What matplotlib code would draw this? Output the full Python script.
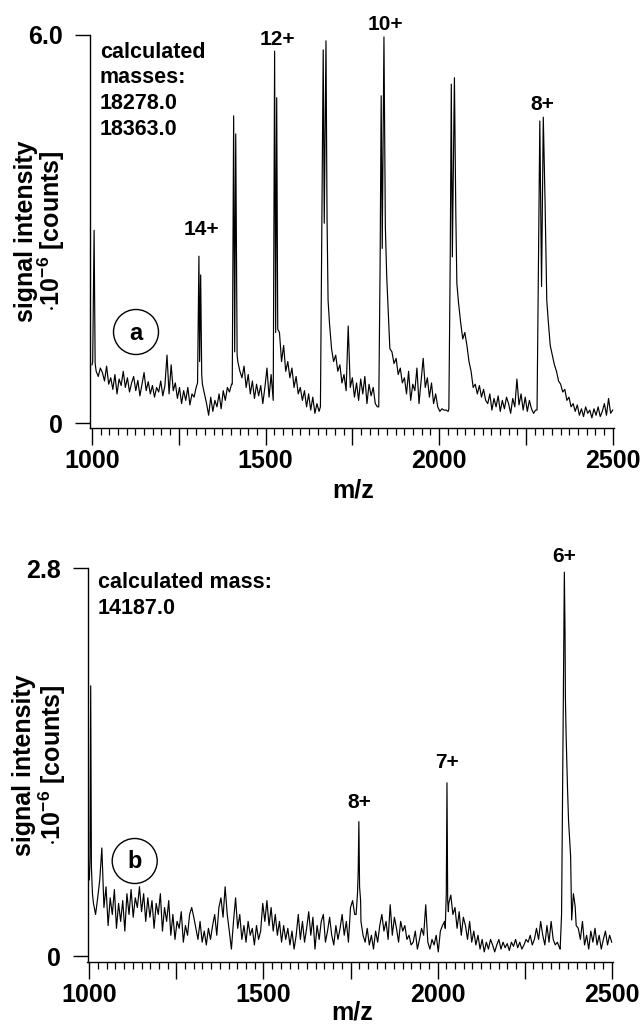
import numpy as np
import matplotlib
matplotlib.use("Agg")
import matplotlib.pyplot as plt
from matplotlib.patches import Ellipse
from matplotlib.ticker import MultipleLocator

plt.rcParams["font.family"] = ["Liberation Sans", "DejaVu Sans"]
plt.rcParams["font.weight"] = "bold"
plt.rcParams["mathtext.fontset"] = "custom"
plt.rcParams["mathtext.rm"] = "Liberation Sans:bold"
plt.rcParams["mathtext.it"] = "Liberation Sans:bold"
plt.rcParams["mathtext.bf"] = "Liberation Sans:bold"
plt.rcParams["mathtext.default"] = "rm"

nan = float("nan")

# ---------------- data: panel a ----------------
mz_grid = np.arange(1000, 2501, 6)   # sampling grid of the baseline (m/z)

base_a = [
    0.90, 0.95, 0.80, 0.72, 0.85,  0.78, 0.65, 0.88, 0.60, 0.70,
    0.52, 0.75, 0.45, 0.68, 0.58,  0.80, 0.55, 0.70, 0.48, 0.62,
    0.72, 0.50, 0.66, 0.42, 0.60,  0.78, 0.50, 0.64, 0.45, 0.58,
    0.40, 0.55, 0.48, 0.65, 0.42,  0.58, 1.05, 0.45, 0.90, 0.50,
    0.62, 0.38, 0.55, 0.30, 0.50,  0.35, 0.55, 0.28, 0.45, 0.40,
    0.55, nan, nan, 0.60, 0.45,    0.30, 0.12, 0.40, 0.18, 0.35,
    0.25, 0.45, 0.22, 0.50, 0.35,  0.55, 0.48, 0.60, nan, nan,
    0.95, 0.80, 0.70, 0.88, 0.55,  0.75, 0.45, 0.65, 0.38, 0.60,
    0.42, 0.58, 0.30, 0.55, 0.85,  0.40, 0.75, nan, nan, nan,
    1.40, 0.95, 1.20, 0.80, 0.95,  0.70, 0.85, 0.55, 0.72, 0.45,
    0.55, 0.35, 0.50, 0.25, 0.45,  0.20, 0.40, 0.15, 0.30, 0.18,
    nan, nan, nan, nan, 1.55,      1.15, 0.95, 1.05, 0.80, 0.90,
    0.62, 0.75, 0.50, 1.50, 0.55,  0.70, 0.40, 0.62, 0.35, 0.68,
    0.45, 0.72, 0.30, 0.60, 0.42,  0.55, 0.30, 0.25, nan, nan,
    nan, nan, nan, 1.15, 1.10,     0.92, 1.00, 0.75, 0.85, 0.62,
    0.70, 0.45, 0.80, 0.35, 0.60,  0.50, 0.85, 0.30, 0.65, 1.00,
    0.55, 0.70, 0.40, 0.62, 0.30,  0.45, 0.25, 0.18, 0.22, 0.20,
    0.20, 0.18, nan, nan, nan,     nan, nan, 1.55, 1.30, 1.40,
    1.20, 0.95, 0.80, 0.55, 0.60,  0.45, 0.58, 0.40, 0.52, 0.35,
    0.30, 0.45, 0.20, 0.38, 0.25,  0.42, 0.18, 0.35, 0.22, 0.40,
    0.30, 0.15, 0.38, 0.25, 0.68,  0.28, 0.45, 0.20, 0.40, 0.18,
    0.35, 0.22, 0.15, 0.20, nan,   nan, nan, nan, nan, nan,
    1.20, 1.05, 0.90, 0.80, 0.65,  0.60, 0.48, 0.52, 0.35, 0.40,
    0.25, 0.30, 0.18, 0.28, 0.12,  0.22, 0.10, 0.25, 0.15, 0.20,
    0.08, 0.22, 0.12, 0.25, 0.10,  0.18, 0.30, 0.12, 0.38, 0.15,
    0.20,
]

peaks_a_mz = [
    [1002, 1006, 1009],
    [1304, 1308, 1310, 1313, 1316],
    [1404, 1408, 1411, 1414, 1418],
    [1522, 1526, 1529, 1532, 1535],
    [1658, 1662, 1666, 1669, 1674, 1677, 1680],
    [1826, 1830, 1833, 1836, 1841, 1845, 1849, 1852],
    [2028, 2032, 2035, 2038, 2044, 2048, 2051, 2056],
    [2282, 2286, 2290, 2295, 2300, 2305, 2310, 2314],
]
peaks_a_int = [
    [0.95, 2.98, 0.92],
    [0.62, 2.58, 0.95, 2.29, 0.75],
    [0.60, 4.75, 1.10, 4.47, 1.05],
    [0.35, 5.75, 1.40, 5.03, 1.45],
    [0.25, 3.00, 5.77, 3.09, 5.91, 3.20, 1.90],
    [0.25, 2.50, 5.06, 2.70, 5.97, 3.04, 2.26, 1.90],
    [0.22, 2.60, 5.24, 2.57, 5.34, 3.24, 2.16, 1.85],
    [0.20, 2.50, 4.67, 2.11, 4.73, 3.45, 1.90, 1.60],
]

# ---------------- data: panel b ----------------
base_b = [
    nan, nan, 0.38, 0.30, 0.42,    0.55, 0.78, 0.35, 0.50, 0.22,
    0.42, 0.30, 0.48, 0.20, 0.38,  0.25, 0.40, 0.18, 0.45, 0.30,
    0.48, 0.28, 0.42, 0.35, 0.50,  0.32, 0.45, 0.25, 0.42, 0.28,
    0.40, 0.20, 0.38, 0.30, 0.45,  0.18, 0.35, 0.25, 0.40, 0.15,
    0.30, 0.12, 0.25, 0.20, 0.32,  0.10, 0.22, 0.15, 0.30, 0.35,
    0.28, 0.20, 0.12, 0.25, 0.10,  0.18, 0.08, 0.20, 0.12, 0.22,
    0.30, 0.15, 0.35, 0.42, 0.28,  0.50, 0.30, 0.18, 0.05, 0.25,
    0.42, 0.20, 0.30, 0.12, 0.22,  0.10, 0.25, 0.15, 0.20, 0.08,
    0.22, 0.12, 0.18, 0.38, 0.25,  0.40, 0.22, 0.35, 0.18, 0.30,
    0.15, 0.25, 0.10, 0.22, 0.12,  0.20, 0.08, 0.18, 0.05, 0.15,
    0.30, 0.12, 0.25, 0.10, 0.20,  0.32, 0.15, 0.28, 0.05, 0.22,
    0.12, 0.25, 0.30, 0.10, 0.18,  0.28, 0.15, 0.08, 0.22, 0.12,
    0.20, 0.30, 0.15, 0.25, 0.10,  0.35, 0.40, 0.30, nan, nan,
    0.25, 0.15, 0.10, 0.20, 0.08,  0.15, 0.05, 0.18, 0.10, 0.22,
    0.30, 0.18, 0.25, 0.12, 0.37,  0.15, 0.28, 0.20, 0.10, 0.25,
    0.18, 0.22, 0.12, 0.15, 0.08,  0.10, 0.18, 0.05, 0.12, 0.20,
    0.15, 0.37, 0.10, 0.05, 0.12,  0.08, 0.15, 0.03, 0.18, 0.22,
    0.25, nan, 0.38, 0.44, 0.30,   0.35, 0.20, 0.32, 0.15, 0.28,
    0.22, 0.12, 0.25, 0.10, 0.18,  0.08, 0.15, 0.05, 0.12, 0.03,
    0.10, 0.05, 0.12, 0.08, 0.03,  0.08, 0.12, 0.05, 0.10, 0.06,
    0.09, 0.04, 0.10, 0.07, 0.12,  0.06, 0.10, 0.05, 0.08, 0.12,
    0.10, 0.15, 0.08, 0.12, 0.20,  0.12, 0.25, 0.15, 0.08, 0.22,
    0.10, 0.25, 0.12, 0.08, 0.10,  0.06, nan, nan, nan, nan,
    nan, nan, nan, 0.22, 0.20,     0.12, 0.25, 0.08, 0.15, 0.05,
    0.18, 0.10, 0.20, 0.08, 0.15,  0.05, 0.12, 0.18, 0.08, 0.15,
    0.10,
]

peaks_b_mz = [
    [1000, 1002, 1004, 1006, 1009],
    [1766, 1770, 1772, 1774, 1776, 1779],
    [2022, 2025, 2027, 2029, 2031],
    [2352, 2356, 2359, 2362, 2364, 2366, 2367, 2369, 2373, 2376, 2382, 2385,
     2390, 2395],
]
peaks_b_int = [
    [0.55, 0.70, 1.95, 0.64, 0.45],
    [0.30, 0.45, 0.60, 0.97, 0.50, 0.40],
    [0.20, 0.45, 1.25, 0.40, 0.32],
    [0.05, 0.30, 1.20, 2.20, 2.77, 2.33, 1.87, 1.60, 1.22, 0.98, 0.72, 0.26,
     0.45, 0.36],
]

charges_a = ["14+", "12+", "10+", "8+"]
charges_b = ["8+", "7+", "6+"]
xtick_vals = [1000, 1250, 1500, 1750, 2000, 2250, 2500]
xtick_text = ["1000", "", "1500", "", "2000", "", "2500"]


def build(grid, base, pmz, pint):
    x = np.asarray(grid, float)
    y = np.asarray(base, float)
    keep = np.isfinite(y)
    for m in pmz:
        keep &= ~((x >= min(m)) & (x <= max(m)))
    xs = np.concatenate([x[keep]] + [np.asarray(m, float) for m in pmz])
    ys = np.concatenate([y[keep]] + [np.asarray(v, float) for v in pint])
    o = np.argsort(xs, kind="stable")
    return xs[o], ys[o]


W, H = 644, 1025
fig = plt.figure(figsize=(W / 100, H / 100), dpi=100)


def px(x, y):
    return x / W, 1 - y / H


def make_axes(left, right, top, bottom, ymax, ymin, xmin, xmax):
    ax = fig.add_axes([left / W, 1 - bottom / H, (right - left) / W, (bottom - top) / H])
    ax.set_xlim(xmin, xmax)
    ax.set_ylim(ymin, ymax)
    for s in ("top", "right"):
        ax.spines[s].set_visible(False)
    for s in ("left", "bottom"):
        ax.spines[s].set_linewidth(1.0)
    ax.set_xticks(xtick_vals)
    ax.set_xticklabels(xtick_text)
    ax.xaxis.set_minor_locator(MultipleLocator(25))
    ax.set_yticks([0, ymax])
    ax.set_yticklabels(["0", f"{ymax:.1f}"])
    ax.tick_params(axis="x", which="major", direction="out", length=12, width=1.0,
                   pad=3.0, labelsize=18)
    ax.tick_params(axis="x", which="minor", direction="out", length=5, width=0.9)
    ax.tick_params(axis="y", which="major", direction="out", length=10.8, width=1.0,
                   pad=8.5, labelsize=18)
    for lab in ax.get_xticklabels() + ax.get_yticklabels():
        lab.set_fontweight("bold")
    return ax


# panel a
ax_a = make_axes(90, 614, 35, 428, 6.0, -0.077, 994.2, 2503.7)
xa, ya = build(mz_grid, base_a, peaks_a_mz, peaks_a_int)
ax_a.plot(xa, ya, color="black", lw=0.85)

# panel b
ax_b = make_axes(87.5, 613, 568, 962, 2.8, -0.043, 994.8, 2503.7)
xb, yb = build(mz_grid, base_b, peaks_b_mz, peaks_b_int)
ax_b.plot(xb, yb, color="black", lw=0.85)


def ftext(x, y, s, **kw):
    kw.setdefault("fontweight", "bold")
    fig.text(*px(x, y), s, **kw)


# y labels
for yc, x1, x2 in ((231, 26, 51.5), (765, 24, 52)):
    ftext(x1, yc, "signal intensity", rotation=90, ha="center", va="center", fontsize=18)
    ftext(x2, yc, r"$\cdot$10$^{-6}$ [counts]", rotation=90, ha="center", va="center",
          fontsize=18)

# x labels
ftext(353, 497, "m/z", ha="center", va="baseline", fontsize=18)
ftext(352, 1019, "m/z", ha="center", va="baseline", fontsize=18)

# annotations
for yb_, s in zip((58, 83, 109, 135), ("calculated", "masses:", "18278.0", "18363.0")):
    ftext(100, yb_, s, ha="left", va="baseline", fontsize=15.5)
for yb_, s in zip((588, 614), ("calculated mass:", "14187.0")):
    ftext(98, yb_, s, ha="left", va="baseline", fontsize=15.5)

# charge state labels
for (x, y), s in zip(((201.7, 235), (277, 45), (385, 30), (542.5, 110)), charges_a):
    ftext(x, y, s, ha="center", va="baseline", fontsize=15)
for (x, y), s in zip(((359, 808), (447.5, 768), (563.7, 562)), charges_b):
    ftext(x, y, s, ha="center", va="baseline", fontsize=15)

# circled panel letters
for (cx, cy), s in (((136, 332), "a"), ((134.7, 861), "b")):
    fig.add_artist(Ellipse(px(cx, cy), 45 / W, 45 / H, transform=fig.transFigure,
                           fill=False, lw=1.0, ec="black"))
    ftext(cx, cy + 1, s, ha="center", va="center", fontsize=17)

fig.savefig("out.png", dpi=100)
